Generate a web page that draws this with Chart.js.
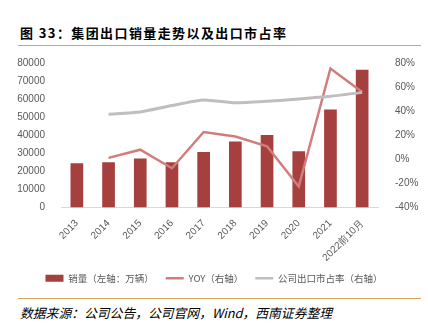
<!DOCTYPE html>
<html>
<head>
<meta charset="utf-8">
<script src="https://cdn.jsdelivr.net/npm/chart.js@4.4.1/dist/chart.umd.min.js"></script>
<style>
  html, body { margin: 0; padding: 0; background: #fff; }
  #wrap { position: relative; width: 428px; height: 332px; overflow: hidden; }
  #title {
    position: absolute; left: 20px; top: 23px;
    font: bold 13px "Noto Sans CJK SC", "Liberation Sans", sans-serif;
    letter-spacing: 1.4px; color: #000; white-space: nowrap;
  }
  .rule { position: absolute; left: 18px; width: 403px; height: 1.5px; background: #D9A55C; }
  #chartBox { position: absolute; left: 0; top: 48px; width: 428px; height: 250px; }
  #source {
    position: absolute; left: 20px; top: 303px;
    font: italic 12.8px "Noto Sans CJK SC", "Liberation Sans", sans-serif;
    color: #000; white-space: nowrap;
  }
</style>
</head>
<body>
<div id="wrap">
  <div id="title">图 33：集团出口销量走势以及出口市占率</div>
  <div class="rule" style="top:44.5px"></div>
  <div id="chartBox"><canvas id="exportChart"></canvas></div>
  <div class="rule" style="top:297.5px"></div>
  <div id="source">数据来源：公司公告，公司官网，Wind，西南证券整理</div>
</div>
<script>
// Data
const years = ['2013', '2014', '2015', '2016', '2017', '2018', '2019', '2020', '2021', '2022前10月'];
const exportVolume = [24500, 25000, 27100, 25100, 30700, 36500, 40200, 31100, 54300, 76200];
const yoyPct = [null, 1.2, 8.0, -7.4, 22.7, 18.9, 10.8, -22.6, 75.4, 56.0];
const marketSharePct = [null, 37.4, 39.3, 44.7, 49.3, 46.9, 48.2, 50.1, 52.3, 55.6];

const TICK_COLOR = '#595959';
const TICK_FONT = { family: '"Liberation Sans", Arial, sans-serif', size: 10 };

function createChart() {
    const ctx = document.getElementById('exportChart').getContext('2d');

    new Chart(ctx, {
        data: {
            labels: years,
            datasets: [
                {
                    type: 'bar',
                    label: '销量（左轴：万辆）',
                    data: exportVolume,
                    yAxisID: 'y',
                    backgroundColor: '#A5403F',
                    barPercentage: 0.4,
                    categoryPercentage: 1,
                    order: 3
                },
                {
                    type: 'line',
                    label: 'YOY（右轴）',
                    data: yoyPct,
                    yAxisID: 'y1',
                    borderColor: '#D27C7C',
                    backgroundColor: '#D27C7C',
                    borderWidth: 2.5,
                    pointRadius: 0,
                    tension: 0,
                    order: 2
                },
                {
                    type: 'line',
                    label: '公司出口市占率（右轴）',
                    data: marketSharePct,
                    yAxisID: 'y1',
                    borderColor: '#BFBFBF',
                    backgroundColor: '#BFBFBF',
                    borderWidth: 3,
                    pointRadius: 0,
                    tension: 0.2,
                    order: 1
                }
            ]
        },
        options: {
            responsive: true,
            maintainAspectRatio: false,
            animation: false,
            layout: { padding: { top: 8, left: 0, right: 0, bottom: 5 } },
            scales: {
                x: {
                    grid: { display: false },
                    border: { color: '#D9D9D9' },
                    ticks: {
                        color: TICK_COLOR,
                        font: TICK_FONT,
                        minRotation: 45,
                        maxRotation: 45,
                        padding: 2
                    },
                    afterFit: scale => { scale.height = 54; }
                },
                y: {
                    position: 'left',
                    min: 0,
                    max: 80000,
                    grid: { display: false },
                    border: { display: false },
                    ticks: {
                        stepSize: 10000,
                        color: TICK_COLOR,
                        font: TICK_FONT,
                        padding: 8,
                        callback: v => String(v)
                    },
                    afterFit: scale => { scale.width = 61; }
                },
                y1: {
                    position: 'right',
                    min: -40,
                    max: 80,
                    grid: { display: false },
                    border: { display: false },
                    ticks: {
                        stepSize: 20,
                        color: TICK_COLOR,
                        font: TICK_FONT,
                        padding: 9,
                        callback: v => v + '%'
                    },
                    afterFit: scale => { scale.width = 50; }
                }
            },
            plugins: {
                tooltip: { enabled: false },
                legend: {
                    position: 'bottom',
                    labels: {
                        color: TICK_COLOR,
                        font: { family: '"Noto Sans CJK SC", sans-serif', size: 9.5 },
                        usePointStyle: true,
                        pointStyleWidth: 18,
                        boxHeight: 7,
                        padding: 12,
                        sort: (a, b) => a.datasetIndex - b.datasetIndex,
                        generateLabels: chart => {
                            const items = Chart.defaults.plugins.legend.labels.generateLabels(chart);
                            items.forEach(item => {
                                const ds = chart.data.datasets[item.datasetIndex];
                                if (ds.type === 'bar') {
                                    item.pointStyle = 'rect';
                                    item.lineWidth = 0;
                                } else {
                                    item.pointStyle = 'line';
                                    item.lineWidth = 2.5;
                                    item.strokeStyle = ds.borderColor;
                                }
                            });
                            return items;
                        }
                    }
                }
            }
        }
    });
}

document.addEventListener('DOMContentLoaded', createChart);
</script>
</body>
</html>
